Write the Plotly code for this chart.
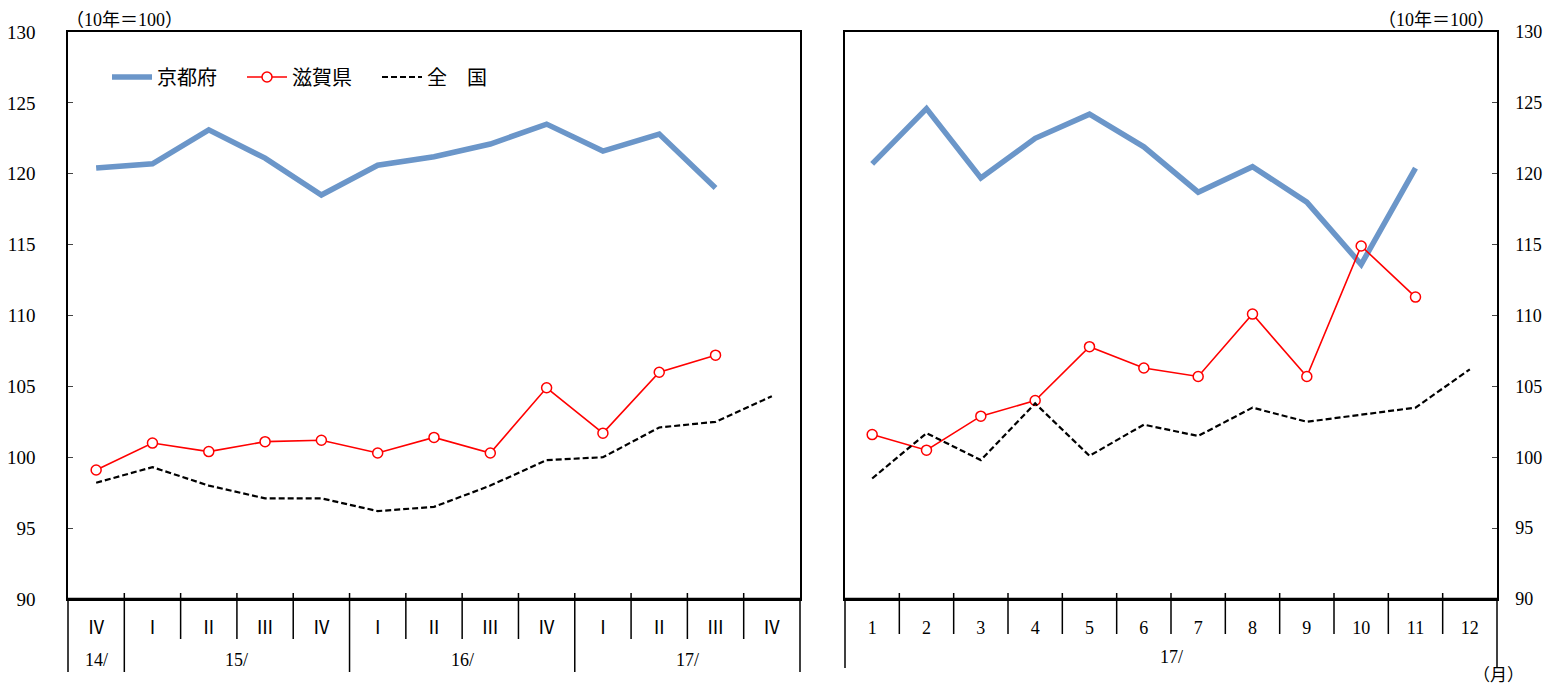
import plotly.graph_objects as go

# quarterly (left panel)
quarters = ["Ⅳ", "Ⅰ", "Ⅱ", "Ⅲ", "Ⅳ", "Ⅰ", "Ⅱ", "Ⅲ", "Ⅳ", "Ⅰ", "Ⅱ", "Ⅲ", "Ⅳ"]
q_years = ["14/", "15/", "16/", "17/"]
q_year_span = [(0, 0), (1, 4), (5, 8), (9, 12)]
kyoto_q = [120.4, 120.7, 123.1, 121.1, 118.5, 120.6, 121.2, 122.1, 123.5, 121.6, 122.8, 119.0]
shiga_q = [99.1, 101.0, 100.4, 101.1, 101.2, 100.3, 101.4, 100.3, 104.9, 101.7, 106.0, 107.2]
japan_q = [98.2, 99.3, 98.0, 97.1, 97.1, 96.2, 96.5, 98.0, 99.8, 100.0, 102.1, 102.5, 104.3]

# monthly 2017 (right panel)
months = ["1", "2", "3", "4", "5", "6", "7", "8", "9", "10", "11", "12"]
kyoto_m = [120.7, 124.6, 119.7, 122.5, 124.2, 121.9, 118.7, 120.5, 118.0, 113.6, 120.4]
shiga_m = [101.6, 100.5, 102.9, 104.0, 107.8, 106.3, 105.7, 110.1, 105.7, 114.9, 111.3]
japan_m = [98.5, 101.7, 99.8, 103.8, 100.1, 102.3, 101.5, 103.5, 102.5, 103.0, 103.5, 106.2]

# page body has an 8px margin, so the figure is drawn a bit smaller and shifted
OFF = 8
W, H = 1552 - 2 * OFF, 692 - 2 * OFF
FONT = "Liberation Serif, Noto Sans CJK JP, serif"
BLUE = "#6B96C9"
RED = "#FF0000"
DASH = "6px,3px"


def fx(x):
    return (x - OFF) / W


def py(y):
    return 1 - (y - OFF) / H


fig = go.Figure()

# left panel
fig.add_trace(go.Scatter(x=list(range(len(kyoto_q))), y=kyoto_q, name="京都府　",
                         mode="lines", line=dict(color=BLUE, width=5.5), xaxis="x", yaxis="y"))
fig.add_trace(go.Scatter(x=list(range(len(shiga_q))), y=shiga_q, name="滋賀県　",
                         mode="lines+markers", line=dict(color=RED, width=1.6),
                         marker=dict(symbol="circle", size=10, color="white", line=dict(color=RED, width=1.5)),
                         xaxis="x", yaxis="y"))
fig.add_trace(go.Scatter(x=list(range(len(japan_q))), y=japan_q, name="全　国",
                         mode="lines", line=dict(color="black", width=2.2, dash=DASH), xaxis="x", yaxis="y"))

# right panel
fig.add_trace(go.Scatter(x=list(range(len(kyoto_m))), y=kyoto_m, showlegend=False,
                         mode="lines", line=dict(color=BLUE, width=5.5), xaxis="x2", yaxis="y2"))
fig.add_trace(go.Scatter(x=list(range(len(shiga_m))), y=shiga_m, showlegend=False,
                         mode="lines+markers", line=dict(color=RED, width=1.6),
                         marker=dict(symbol="circle", size=10, color="white", line=dict(color=RED, width=1.5)),
                         xaxis="x2", yaxis="y2"))
fig.add_trace(go.Scatter(x=list(range(len(japan_m))), y=japan_m, showlegend=False,
                         mode="lines", line=dict(color="black", width=2.2, dash=DASH), xaxis="x2", yaxis="y2"))

axis_common = dict(showgrid=False, zeroline=False, showline=True, linecolor="black",
                   linewidth=1.5, mirror=True, automargin=False)

fig.update_layout(
    width=W, height=H,
    margin=dict(l=0, r=0, t=0, b=0, autoexpand=False),
    paper_bgcolor="white", plot_bgcolor="white",
    font=dict(family=FONT, size=19, color="black"),
    xaxis=dict(domain=[fx(68), fx(800)], range=[-0.5, len(quarters) - 0.5],
               tickmode="array", tickvals=list(range(len(quarters))), ticktext=quarters,
               ticks="", ticklabelstandoff=12, tickfont=dict(size=18), anchor="y", **axis_common),
    yaxis=dict(domain=[py(599), py(32)], range=[90, 130], dtick=5, ticks="inside", ticklen=5,
               ticklabelstandoff=27, tickfont=dict(size=19), anchor="x", **axis_common),
    xaxis2=dict(domain=[fx(845), fx(1497)], range=[-0.5, len(months) - 0.5],
                tickmode="array", tickvals=list(range(len(months))), ticktext=months,
                ticks="", ticklabelstandoff=12, tickfont=dict(size=18), anchor="y2", **axis_common),
    yaxis2=dict(domain=[py(599), py(32)], range=[90, 130], dtick=5, ticks="inside", ticklen=5,
                side="right", ticklabelstandoff=13, tickfont=dict(size=18), anchor="x2", **axis_common),
    legend=dict(orientation="h", x=fx(107), y=py(77), xanchor="left", yanchor="middle",
                bgcolor="rgba(0,0,0,0)", font=dict(size=20), itemwidth=40, traceorder="normal"),
)

shapes = []
line = dict(color="black", width=1.5)
# left panel category separators
for i in range(len(quarters) - 1):
    shapes.append(dict(type="line", xref="x", yref="paper", x0=i + 0.5, x1=i + 0.5,
                       y0=py(593), y1=py(639), line=line))
for s, e in q_year_span[:-1]:
    shapes.append(dict(type="line", xref="x", yref="paper", x0=e + 0.5, x1=e + 0.5,
                       y0=py(639), y1=py(672), line=line))
for xd in (0, 1):
    shapes.append(dict(type="line", xref="x domain", yref="paper", x0=xd, x1=xd,
                       y0=py(599), y1=py(672), line=line))
# right panel
for i in range(len(months) - 1):
    shapes.append(dict(type="line", xref="x2", yref="paper", x0=i + 0.5, x1=i + 0.5,
                       y0=py(593), y1=py(634), line=line))
for xd in (0, 1):
    shapes.append(dict(type="line", xref="x2 domain", yref="paper", x0=xd, x1=xd,
                       y0=py(599), y1=py(668), line=line))
# thicker bottom axes
shapes.append(dict(type="line", xref="x domain", yref="paper", x0=0, x1=1, y0=py(599), y1=py(599),
                   line=dict(color="black", width=2.5)))
shapes.append(dict(type="line", xref="x2 domain", yref="paper", x0=0, x1=1, y0=py(599), y1=py(599),
                   line=dict(color="black", width=2.5)))
fig.update_layout(shapes=shapes)

annotations = []
for label, (s, e) in zip(q_years, q_year_span):
    annotations.append(dict(text=label, xref="x", yref="paper", x=(s + e) / 2, y=py(660),
                            showarrow=False, yanchor="middle", font=dict(size=18)))
annotations.append(dict(text="17/", xref="x2", yref="paper", x=(len(months) - 1) / 2, y=py(657),
                        showarrow=False, yanchor="middle", font=dict(size=18)))
annotations.append(dict(text="（10年＝100）", xref="paper", yref="paper", x=fx(64), y=py(8),
                        xanchor="left", yanchor="top", showarrow=False, font=dict(size=18)))
annotations.append(dict(text="（10年＝100）", xref="paper", yref="paper", x=fx(1497), y=py(8),
                        xanchor="right", yanchor="top", showarrow=False, font=dict(size=18)))
annotations.append(dict(text="（月）", xref="paper", yref="paper", x=fx(1498), y=py(675),
                        xanchor="center", yanchor="middle", showarrow=False, font=dict(size=17)))
fig.update_layout(annotations=annotations)

fig.write_html("out.html")
